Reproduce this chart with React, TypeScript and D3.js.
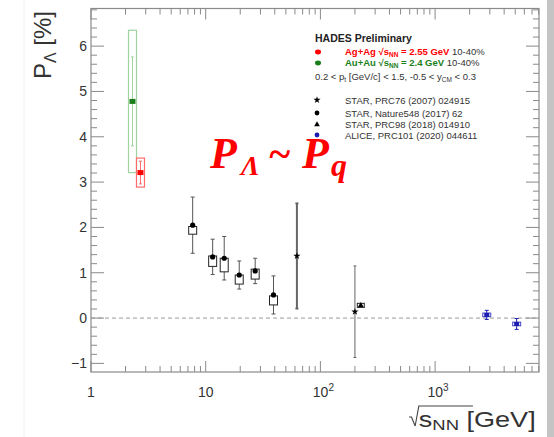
import React from 'react'
import * as d3 from 'd3'

const width = 554
const height = 437
const frame = { left: 91, right: 539, top: 8.5, bottom: 372 }

// HADES points
const hadesEnergy = [2.3, 2.7]
const hadesPol = [4.78, 3.21]
const hadesStat = [0.98, 0.25]
const hadesSys = [1.57, 0.32]
const hadesColor = ['#1a7f1a', '#ff0000']
const hadesBox = ['#9fd49f', '#ff6a6a']

// STAR, Nature548 (2017) 62
const starEnergy = [7.7, 11.5, 14.5, 19.6, 27, 39]
const starPol = [2.05, 1.35, 1.32, 0.95, 1.04, 0.51]
const starStat = [0.62, 0.39, 0.48, 0.31, 0.28, 0.42]
const starSysTop = [2.02, 1.37, 1.32, 0.95, 1.08, 0.49]
const starSysBot = [1.85, 1.14, 1.02, 0.75, 0.86, 0.29]

// STAR, PRC76 (2007) 024915
const prc76Energy = [62.4, 200]
const prc76Pol = [1.37, 0.14]
const prc76Stat = [1.16, 1.01]
const prc76Width = [2, 1]

// STAR, PRC98 (2018) 014910
const prc98Energy = [225]
const prc98Pol = [0.28]
const prc98Sys = [0.045]

// ALICE, PRC101 (2020) 044611
const aliceEnergy = [2820, 5140]
const alicePol = [0.07, -0.13]
const aliceStat = [0.1, 0.12]
const aliceSys = [0.04, 0.04]

const xLabels = [
    { v: 1, base: '1', sup: '' },
    { v: 10, base: '10', sup: '' },
    { v: 100, base: '10', sup: '2' },
    { v: 1000, base: '10', sup: '3' },
]
const yLabels = [-1, 0, 1, 2, 3, 4, 5, 6]

const x = d3.scaleLog().domain([1, 8050]).range([frame.left, frame.right])
const y = d3.scaleLinear().domain([-1.19, 6.83]).range([frame.bottom, frame.top])

const sans = '"Liberation Sans", Arial, sans-serif'
const serif = '"Liberation Serif", "Times New Roman", serif'
const axisColor = '#8a8a8a'

const xMinor = []
for (let dec = 1; dec <= 1000; dec *= 10) {
    for (let k = 1; k <= 9; k++) {
        const v = dec * k
        if (v <= 8050) xMinor.push({ v, major: k === 1 })
    }
}
const yMinor = d3.range(-1.0, 6.81, 0.2).map((v) => ({
    v,
    major: Math.abs(v - Math.round(v)) < 0.01,
}))

const ErrBar = ({ cx, v, e, color, w = 1, cap = 2 }) => (
    <g stroke={color} strokeWidth={w}>
        <line x1={cx} x2={cx} y1={y(v + e)} y2={y(v - e)} />
        <line x1={cx - cap} x2={cx + cap} y1={y(v + e)} y2={y(v + e)} />
        <line x1={cx - cap} x2={cx + cap} y1={y(v - e)} y2={y(v - e)} />
    </g>
)

const star = d3.symbol().type(d3.symbolStar).size(16)()
const tri = d3.symbol().type(d3.symbolTriangle).size(14)()

const App = () => {
    return (
        <div style={{ position: 'absolute', left: 0, top: 0 }}>
            <svg width={width} height={height} style={{ display: 'block', background: '#fff' }}>
                {/* page borders */}
                <line x1={24} x2={24} y1={0} y2={height} stroke="#f0f0f0" />
                <rect x={547} y={0} width={7} height={height} fill="#c4c4c4" />

                {/* frame */}
                <rect
                    x={frame.left}
                    y={frame.top}
                    width={frame.right - frame.left}
                    height={frame.bottom - frame.top}
                    fill="none"
                    stroke={axisColor}
                    strokeWidth={1.2}
                />
                {/* x ticks */}
                {xMinor.map((t, i) => {
                    const len = t.major ? 11 : 6
                    const px = x(t.v)
                    return (
                        <g key={'xt' + i} stroke={axisColor}>
                            <line x1={px} x2={px} y1={frame.bottom} y2={frame.bottom - len} />
                            <line x1={px} x2={px} y1={frame.top} y2={frame.top + len} />
                        </g>
                    )
                })}
                {/* y ticks */}
                {yMinor.map((t, i) => {
                    const len = t.major ? 13 : 6
                    const py = y(t.v)
                    return (
                        <g key={'yt' + i} stroke={axisColor}>
                            <line x1={frame.left} x2={frame.left + len} y1={py} y2={py} />
                            <line x1={frame.right} x2={frame.right - len} y1={py} y2={py} />
                        </g>
                    )
                })}

                {/* tick labels */}
                {yLabels.map((v) => (
                    <text
                        key={'yl' + v}
                        x={87}
                        y={y(v)}
                        dy="0.36em"
                        textAnchor="end"
                        fontFamily={sans}
                        fontSize={14}
                        fill="#333"
                    >
                        {v < 0 ? '\u2212' + Math.abs(v) : v}
                    </text>
                ))}
                {xLabels.map((d) => (
                    <text
                        key={'xl' + d.v}
                        x={x(d.v) + (d.sup ? 3 : 0)}
                        y={397}
                        textAnchor="middle"
                        fontFamily={sans}
                        fontSize={14}
                        fill="#333"
                    >
                        {d.base}
                        {d.sup && (
                            <tspan dy={-6} fontSize={10}>
                                {d.sup}
                            </tspan>
                        )}
                    </text>
                ))}

                {/* axis titles */}
                <g transform="translate(409,427) scale(1.23,1)" fontFamily={sans} fill="#333">
                    <path d="M0,-10 L2,-10 L5,-1 L8,-21 L52,-21" fill="none" stroke="#444" strokeWidth={0.9} />
                    <text x={8} y={0} fontSize={22}>
                        s
                        <tspan fontSize={15} dy={3}>NN</tspan>
                        <tspan dy={-3}> [GeV]</tspan>
                    </text>
                </g>
                <text
                    transform="translate(51,11) rotate(-90)"
                    textAnchor="end"
                    fontFamily={sans}
                    fontSize={24}
                    fill="#333"
                >
                    P<tspan fontSize={16} dy={5}>{'\u039b'}</tspan>
                    <tspan dy={-5}> [%]</tspan>
                </text>

                {/* zero line */}
                <line
                    x1={frame.left}
                    x2={frame.right}
                    y1={y(0)}
                    y2={y(0)}
                    stroke="#9a9a9a"
                    strokeDasharray="4,3"
                />

                {/* HADES */}
                {hadesEnergy.map((e, i) => {
                    const cx = x(e)
                    return (
                        <g key={'h' + i}>
                            <rect
                                x={cx - 4}
                                y={y(hadesPol[i] + hadesSys[i])}
                                width={8}
                                height={y(hadesPol[i] - hadesSys[i]) - y(hadesPol[i] + hadesSys[i])}
                                fill="none"
                                stroke={hadesBox[i]}
                                strokeWidth={1.2}
                            />
                            <ErrBar cx={cx} v={hadesPol[i]} e={hadesStat[i]} color={hadesBox[i]} cap={1.5} />
                            <rect x={cx - 3} y={y(hadesPol[i]) - 2.5} width={6} height={5} fill={hadesColor[i]} />
                        </g>
                    )
                })}

                {/* STAR Nature */}
                {starEnergy.map((e, i) => {
                    const cx = x(e)
                    return (
                        <g key={'s' + i}>
                            <ErrBar cx={cx} v={starPol[i]} e={starStat[i]} color="#555" />
                            <rect
                                x={cx - 4}
                                y={y(starSysTop[i])}
                                width={8}
                                height={y(starSysBot[i]) - y(starSysTop[i])}
                                fill="#fff"
                                stroke="#222"
                            />
                            <circle cx={cx} cy={y(starPol[i])} r={2.6} fill="#000" />
                        </g>
                    )
                })}

                {/* STAR PRC76 */}
                {prc76Energy.map((e, i) => {
                    const cx = x(e)
                    return (
                        <g key={'p' + i}>
                            <ErrBar cx={cx} v={prc76Pol[i]} e={prc76Stat[i]} color="#666" w={prc76Width[i]} cap={1.5} />
                            <path d={star} transform={`translate(${cx},${y(prc76Pol[i])})`} fill="#000" />
                        </g>
                    )
                })}

                {/* STAR PRC98 */}
                {prc98Energy.map((e, i) => {
                    const cx = x(e)
                    return (
                        <g key={'t' + i}>
                            <rect
                                x={cx - 3.5}
                                y={y(prc98Pol[i] + prc98Sys[i])}
                                width={7}
                                height={y(prc98Pol[i] - prc98Sys[i]) - y(prc98Pol[i] + prc98Sys[i])}
                                fill="#fff"
                                stroke="#222"
                            />
                            <path d={tri} transform={`translate(${cx},${y(prc98Pol[i])})`} fill="#000" />
                        </g>
                    )
                })}

                {/* ALICE */}
                {aliceEnergy.map((e, i) => {
                    const cx = x(e)
                    return (
                        <g key={'a' + i}>
                            <ErrBar cx={cx} v={alicePol[i]} e={aliceStat[i]} color="#1c1cb0" cap={2} />
                            <rect
                                x={cx - 4}
                                y={y(alicePol[i] + aliceSys[i])}
                                width={8}
                                height={y(alicePol[i] - aliceSys[i]) - y(alicePol[i] + aliceSys[i])}
                                fill="none"
                                stroke="#4646c8"
                            />
                            <rect x={cx - 2.5} y={y(alicePol[i]) - 2} width={5} height={4} fill="#1c1cb0" />
                        </g>
                    )
                })}

                {/* legend */}
                <g fontFamily={sans} fill="#333">
                    <text x={315} y={42} fontSize={10.5} fontWeight="bold" fill="#222">
                        HADES Preliminary
                    </text>
                    <ellipse cx={318} cy={52} rx={3} ry={2.4} fill="#ff0000" />
                    <text x={345} y={55} fontSize={9.5}>
                        <tspan fill="#ff0000" fontWeight="bold">
                            Ag+Ag {'\u221a'}s<tspan fontSize={6.5} dy={2}>NN</tspan>
                            <tspan dy={-2}> = 2.55 GeV</tspan>
                        </tspan>
                        <tspan> 10-40%</tspan>
                    </text>
                    <ellipse cx={318} cy={63} rx={3} ry={2.4} fill="#1a7f1a" />
                    <text x={345} y={66} fontSize={9.5}>
                        <tspan fill="#1a7f1a" fontWeight="bold">
                            Au+Au {'\u221a'}s<tspan fontSize={6.5} dy={2}>NN</tspan>
                            <tspan dy={-2}> = 2.4 GeV</tspan>
                        </tspan>
                        <tspan> 10-40%</tspan>
                    </text>
                    <text x={315} y={80} fontSize={9.5}>
                        0.2 {'<'} p<tspan fontSize={6.5} dy={2}>t</tspan>
                        <tspan dy={-2}> [GeV/c] {'<'} 1.5, -0.5 {'<'} y</tspan>
                        <tspan fontSize={6.5} dy={2}>CM</tspan>
                        <tspan dy={-2}> {'<'} 0.3</tspan>
                    </text>

                    <path d={star} transform="translate(317,100)" fill="#000" />
                    <text x={345} y={103.5} fontSize={9.5}>STAR, PRC76 (2007) 024915</text>
                    <circle cx={317} cy={113} r={2.4} fill="#000" />
                    <text x={345} y={116.5} fontSize={9.5}>STAR, Nature548 (2017) 62</text>
                    <path d={tri} transform="translate(317,124.5)" fill="#000" />
                    <text x={345} y={127.5} fontSize={9.5}>STAR, PRC98 (2018) 014910</text>
                    <circle cx={317} cy={135} r={2.4} fill="#1c1cb0" />
                    <text x={345} y={138.5} fontSize={9.5}>ALICE, PRC101 (2020) 044611</text>
                </g>

                {/* annotation */}
                <g fontFamily={serif} fontWeight="bold" fontStyle="italic" fill="#ff0000">
                    <text x={210} y={168} fontSize={44}>P</text>
                    <text x={241} y={175} fontSize={28}>{'\u039b'}</text>
                    <text x={268} y={167} fontSize={40}>~</text>
                    <text x={302} y={168} fontSize={44}>P</text>
                    <text x={331} y={176} fontSize={32}>q</text>
                </g>
            </svg>
        </div>
    )
}

export default App
